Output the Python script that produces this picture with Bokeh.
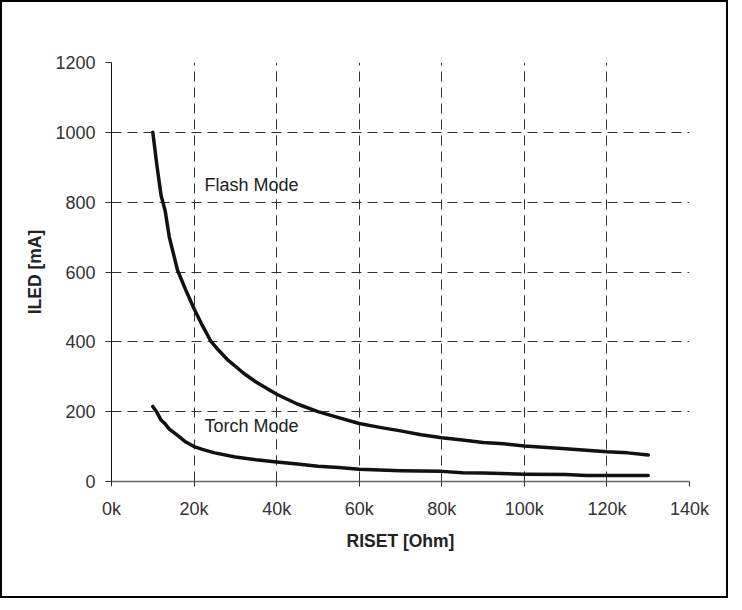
from bokeh.plotting import figure
from bokeh.models import FixedTicker, Label
from bokeh.embed import file_html
from bokeh.resources import INLINE

# ---- data (x in kOhm, y in mA) ----
flash_x = [10, 11, 12, 13, 14, 16, 18, 20, 22, 24, 26, 28, 30, 32, 35, 40, 45, 50,
           55, 60, 65, 70, 75, 80, 85, 90, 95, 100, 110, 120, 125, 130]
flash_y = [1000, 905, 820, 775, 700, 605, 548, 495, 447, 403, 375, 350, 330, 310, 285, 250, 222, 200,
           183, 166, 155, 145, 134, 125, 119, 112, 108, 102, 94, 85, 82, 76]

torch_x = [10, 11, 12, 13, 14, 16, 18, 20, 22, 25, 30, 35, 40, 45, 50, 55, 60, 65,
           70, 80, 85, 90, 100, 110, 115, 120, 130]
torch_y = [215, 198, 176, 165, 150, 132, 113, 100, 92, 82, 70, 62, 56, 50, 44, 40, 35, 33,
           31, 29, 25, 24, 21, 20, 17, 17, 17]

x_ticks = [0, 20, 40, 60, 80, 100, 120, 140]
x_tick_labels = ["0k", "20k", "40k", "60k", "80k", "100k", "120k", "140k"]
y_ticks = [0, 200, 400, 600, 800, 1000, 1200]

x_title = "RISET [Ohm]"
y_title = "ILED [mA]"

FONT = "Liberation Sans"

p = figure(width=728, height=598, output_backend="svg", toolbar_location=None,
           x_range=(0, 140), y_range=(0, 1200),
           min_border_left=109, min_border_top=60, min_border_right=41, min_border_bottom=119)
p.styles = {"border": "2px solid black"}
p.outline_line_color = None
p.background_fill_color = "white"
p.border_fill_color = "white"

# axes
p.xaxis.ticker = FixedTicker(ticks=x_ticks)
p.xaxis.major_label_overrides = {t: l for t, l in zip(x_ticks, x_tick_labels)}
p.yaxis.ticker = FixedTicker(ticks=y_ticks)
for ax in (p.xaxis[0], p.yaxis[0]):
    ax.major_label_text_font = FONT
    ax.major_label_text_font_size = "18px"
    ax.major_label_text_color = "#333333"
    ax.minor_tick_line_color = None
    ax.major_tick_in = 0
    ax.major_tick_line_color = "#333333"
    ax.axis_label_text_font = FONT
    ax.axis_label_text_font_size = "17.5px"
    ax.axis_label_text_font_style = "bold"
    ax.axis_label_text_color = "#222222"
p.xaxis.axis_label = x_title
p.yaxis.axis_label = y_title
p.xaxis.axis_label_standoff = 9
p.yaxis.axis_label_standoff = 7
p.xaxis.major_tick_out = 5
p.yaxis.major_tick_out = 6
p.xaxis.major_label_standoff = 12
p.yaxis.major_label_standoff = 10
p.yaxis.axis_line_color = "#111111"
p.xaxis.axis_line_color = "#666666"
p.xaxis.axis_line_width = 1.5

# grid
p.xgrid.ticker = FixedTicker(ticks=x_ticks[1:])
p.ygrid.ticker = FixedTicker(ticks=y_ticks[1:])
for g in (p.xgrid[0], p.ygrid[0]):
    g.grid_line_color = "#333333"
    g.grid_line_dash = "10 6"
    g.grid_line_width = 1

# curves
p.line(flash_x, flash_y, line_color="#111111", line_width=3.5, line_join="round", line_cap="round")
p.line(torch_x, torch_y, line_color="#111111", line_width=3.5, line_join="round", line_cap="round")

# in-plot labels
for txt, lx, ly in (("Flash Mode", 22.5, 848), ("Torch Mode", 22.5, 160)):
    p.add_layout(Label(x=lx, y=ly, text=txt, text_font=FONT, text_font_size="18px",
                       text_color="#222222", text_baseline="middle", text_align="left"))

open("out.html", "w").write(file_html(p, INLINE))
